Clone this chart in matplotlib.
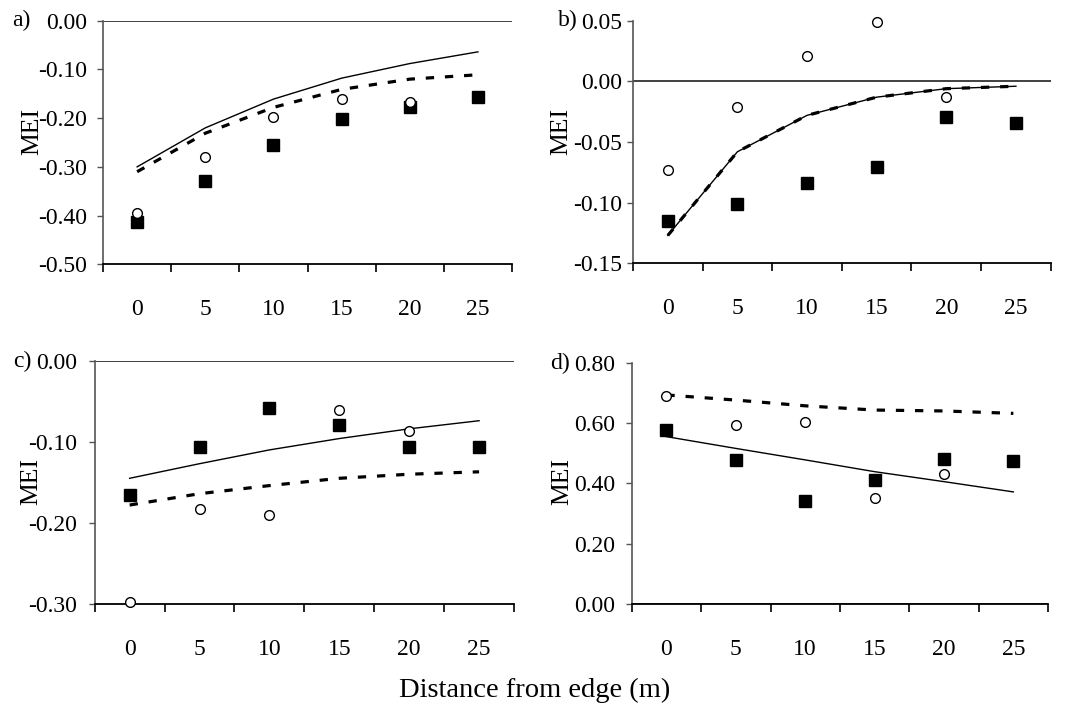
import matplotlib
matplotlib.use("Agg")
import matplotlib.pyplot as plt
import numpy as np

plt.rcParams['font.family'] = ['Liberation Serif', 'DejaVu Serif']
plt.rcParams['font.size'] = 17

dist = [0, 5, 10, 15, 20, 25]

# panel a
a_sq = [-0.414, -0.330, -0.256, -0.202, -0.178, -0.157]
a_ci = [-0.394, -0.279, -0.198, -0.161, -0.166, np.nan]
a_solid = [-0.300, -0.220, -0.161, -0.118, -0.088, -0.064]
a_dash = [-0.310, -0.231, -0.178, -0.141, -0.120, -0.111]

# panel b
b_sq = [-0.115, -0.101, -0.084, -0.071, -0.029, -0.034]
b_ci = [-0.073, -0.021, 0.021, 0.049, -0.013, np.nan]
b_solid = [-0.127, -0.058, -0.028, -0.013, -0.006, -0.004]
b_dash = [-0.127, -0.058, -0.028, -0.013, -0.006, -0.004]

# panel c
c_sq = [-0.166, -0.106, -0.058, -0.079, -0.106, -0.106]
c_ci = [-0.298, -0.183, -0.190, -0.061, -0.087, np.nan]
c_solid = [-0.145, -0.127, -0.110, -0.096, -0.084, -0.074]
c_dash = [-0.178, -0.164, -0.154, -0.145, -0.140, -0.137]

# panel d
d_sq = [0.577, 0.479, 0.342, 0.413, 0.480, 0.474]
d_ci = [0.689, 0.595, 0.605, 0.351, 0.431, np.nan]
d_solid = [0.555, 0.516, 0.478, 0.439, 0.406, 0.372]
d_dash = [0.693, 0.676, 0.657, 0.643, 0.640, 0.632]

# label, squares, circles, solid, dashed, ylim, yticks, axes rect, ylabel x, ylabel y, ytick pad, label pos
panels = [
    ("a)", a_sq, a_ci, a_solid, a_dash, (-0.5, 0.0), np.arange(-0.5, 0.01, 0.1),
     [0.0963, 0.6293, 0.3822, 0.3417], -0.147, 0.544, 7.2, (21, 20)),
    ("b)", b_sq, b_ci, b_solid, b_dash, (-0.15, 0.05), np.arange(-0.15, 0.051, 0.05),
     [0.5916, 0.6307, 0.3904, 0.3402], -0.146, 0.544, 3.6, (568, 20)),
    ("c)", c_sq, c_ci, c_solid, c_dash, (-0.3, 0.0), np.arange(-0.3, 0.01, 0.1),
     [0.0885, 0.1529, 0.3919, 0.3412], -0.126, 0.503, 8.6, (22, 361)),
    ("d)", d_sq, d_ci, d_solid, d_dash, (0.0, 0.8), np.arange(0.0, 0.81, 0.2),
     [0.5904, 0.1525, 0.3891, 0.3389], -0.141, 0.507, 7.9, (560, 363)),
]

fig = plt.figure(figsize=(10.7, 7.13), dpi=100)
x = np.arange(len(dist))

for lab, sq, ci, sol, dsh, ylim, yt, rect, ylx, yly, ypad, lpos in panels:
    ax = fig.add_axes(rect)
    ax.plot(x, sol, color='black', lw=1.0)
    ax.plot(x, dsh, color='black', lw=2.3, dashes=(2.6, 3.4))
    ax.plot(x, sq, 's', color='black', ms=8.6, zorder=4, clip_on=False)
    ax.plot(x, ci, 'o', mfc='white', mec='black', mew=1.0, ms=7.0, zorder=4, clip_on=False)
    ax.axhline(0, color='#333333', lw=1.3, zorder=1)

    ax.set_xlim(-0.5, 5.5)
    ax.set_ylim(*ylim)
    ax.set_xticks(x)
    ax.set_xticklabels([str(d) for d in dist])
    ax.set_xticks(np.arange(-0.5, 5.6, 1), minor=True)
    ax.tick_params(axis='x', which='major', length=0, pad=25)
    ax.tick_params(axis='x', which='minor', length=6, width=1.2, direction='out')
    ax.set_yticks(yt)
    ax.set_yticklabels(["%.2f" % (v + 0.0) if abs(v) > 1e-9 else "0.00" for v in yt])
    ax.tick_params(axis='y', length=4.3, width=1.0, color='#555555', pad=ypad)

    for s in ['top', 'right']:
        ax.spines[s].set_visible(False)
    ax.spines['left'].set_color('#555555')
    ax.spines['left'].set_linewidth(1.2)
    ax.spines['bottom'].set_linewidth(1.3)

    ax.set_ylabel('MEI', fontsize=18.5)
    ax.yaxis.set_label_coords(ylx, yly)

    fig.text(lpos[0] / 1070, 1 - lpos[1] / 713, lab, ha='center', va='center')

fig.text(535 / 1070, 1 - 690 / 713, 'Distance from edge (m)', ha='center', va='center', fontsize=20.5)

fig.savefig('out.png', dpi=100)
